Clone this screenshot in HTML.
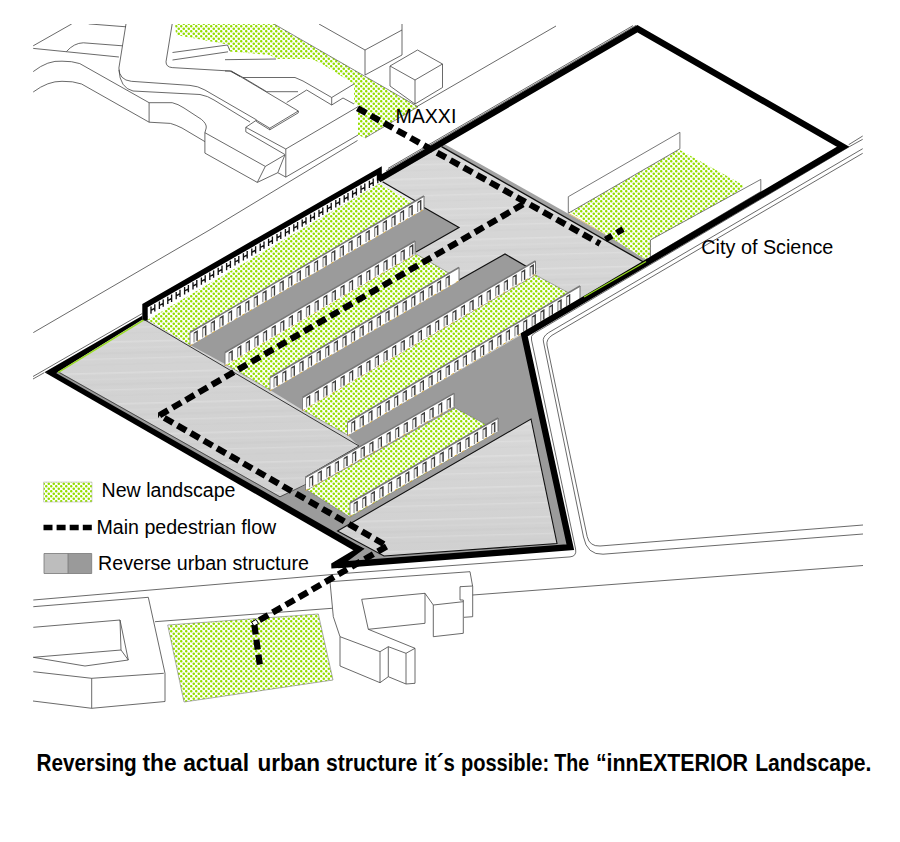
<!DOCTYPE html>
<html lang="en"><head><meta charset="utf-8"><title>innEXTERIOR Landscape</title>
<style>
html,body{margin:0;padding:0;background:#fff;}
svg{display:block}
</style></head><body>
<svg width="900" height="842" viewBox="0 0 900 842">
<defs>
<pattern id="dots" width="5" height="5" patternUnits="userSpaceOnUse">
<rect width="5" height="5" fill="#fff"/>
<circle cx="1.25" cy="1.25" r="1.27" fill="#94dc00"/><circle cx="3.75" cy="3.75" r="1.27" fill="#94dc00"/>
</pattern>
<linearGradient id="lg" x1="0" y1="0" x2="0" y2="1">
<stop offset="0" stop-color="#d8d8d8"/><stop offset="1" stop-color="#d0d0d0"/>
</linearGradient>
<linearGradient id="strip" gradientUnits="userSpaceOnUse" x1="444" y1="145" x2="440.5" y2="151">
<stop offset="0" stop-color="#8a8a8a"/><stop offset="1" stop-color="#b8b8b8"/>
</linearGradient>
<pattern id="streak" width="400" height="31" patternUnits="userSpaceOnUse" patternTransform="rotate(-1.5)">
<rect y="3" width="400" height="1.6" fill="#fff" opacity=".2"/>
<rect y="9.5" width="400" height="1" fill="#fff" opacity=".12"/>
<rect y="14" width="400" height="2.2" fill="#bbb" opacity=".13"/>
<rect y="20" width="400" height="1.3" fill="#fff" opacity=".17"/>
<rect y="25.5" width="400" height="1.8" fill="#c0c0c0" opacity=".13"/>
</pattern>
<clipPath id="frame"><rect x="33" y="24" width="830" height="688"/></clipPath>
</defs>
<rect width="900" height="842" fill="#fff"/>
<g clip-path="url(#frame)">
<polygon points="175.0,24.0 274.0,24.0 418.0,106.8 365.0,138.0 358.0,135.0 358.0,106.0 354.0,103.0 354.0,84.0 322.0,64.0 312.0,59.0 276.0,59.0 270.0,55.0 229.0,51.5 230.0,45.0 176.0,35.0" fill="#fff" stroke="none" stroke-width="1" />
<polygon points="175.0,24.0 274.0,24.0 418.0,106.8 365.0,138.0 358.0,135.0 358.0,106.0 354.0,103.0 354.0,84.0 322.0,64.0 312.0,59.0 276.0,59.0 270.0,55.0 229.0,51.5 230.0,45.0 176.0,35.0" fill="url(#dots)" stroke="none" stroke-width="1" />
<polyline points="274.0,24.0 418.0,106.8 365.0,138.0" fill="none" stroke="#555" stroke-width="0.7" />
<polygon points="167.7,625.0 318.3,614.0 333.0,680.0 184.0,702.0" fill="#fff" stroke="none" stroke-width="1" />
<polygon points="167.7,625.0 318.3,614.0 333.0,680.0 184.0,702.0" fill="url(#dots)" stroke="#777" stroke-width="0.6" />
<g fill="none" stroke="#444" stroke-width="0.8" stroke-linejoin="round">
<polyline points="33.2,45.8 71.8,23.9"/>
<polyline points="33.2,48.4 118.9,57.0"/>
<path d="M66.4,51.6 Q74,43 83.3,42.8 L122.4,45.8"/>
<polyline points="88.7,23.9 126.0,26.8"/>
<path d="M126,23.9 L118.9,68 Q119,80 131.3,81.3 L190,85.4 Q198,86 204.9,90 L256.4,119.8"/>
<path d="M118.9,69.8 Q120,88 133,91 L200,94.5 Q208,96 214,100 L250,122"/>
<path d="M172.2,23.9 L166,61.8 Q166,67 172.2,67.6 L230,71 L240,76.5"/>
<polyline points="172.5,52.5 227.5,45.0 230.0,51.0"/>
<polyline points="172.5,60.0 228.0,51.8"/>
<path d="M33.2,71.6 Q48,60 62,61.2 Q72,61 79.8,63.6 L149.1,102.7"/>
<path d="M33.2,92 Q48,81 62,81.3 Q73,81 81.6,84 L149.1,122.2"/>
<polyline points="149.1,102.7 149.1,122.2"/>
<path d="M149.1,102.7 L172.2,102.7 Q178,104 184,108 L201.3,119.3 Q207,124 206.2,128 L204.9,132.7"/>
<path d="M149.1,122.2 L170.4,123.4 Q176,125 182,128 L204.9,141.6"/>
<polyline points="204.9,132.7 204.9,153.1 257.3,182.4 265.3,166.4 204.9,132.7"/>
<polyline points="265.3,166.4 284.9,154.9"/>
<polyline points="257.3,182.4 277.8,172.7 284.9,154.9"/>
<polyline points="277.8,172.7 285.8,177.1 285.8,149.0 245.8,127.3 245.8,131.8 284.9,154.5"/>
<polyline points="285.8,177.1 358.0,135.0"/>
<polyline points="285.8,149.0 358.0,106.7"/>
<polyline points="245.8,127.3 256.4,120.2 269.8,128.2 298.3,111.0 231.0,71.0"/>
<polyline points="269.8,128.2 269.8,129.8 298.3,112.8 298.3,111.0"/>
<polyline points="256.4,120.2 256.4,121.5 269.8,129.8"/>
<polyline points="225.0,59.7 276.0,59.0"/>
<polyline points="225.0,71.0 231.0,71.0 243.0,77.5 295.0,77.5 303.0,81.0 331.7,97.5 354.0,84.0"/>
<polyline points="331.7,97.5 331.7,105.0 343.0,98.0 354.0,104.0"/>
<polyline points="243.0,77.5 266.7,91.7 298.0,91.7"/>
<polyline points="306.7,90.0 286.7,102.5"/>
<polyline points="306.7,90.0 331.7,105.0"/>
<polyline points="319.0,24.0 365.0,50.0 402.0,30.0 402.0,24.0"/>
<polyline points="365.0,50.0 365.0,75.0 402.0,55.0 402.0,30.0"/>
<polyline points="390.0,66.0 417.5,50.0 442.5,64.0 415.0,80.0 390.0,66.0 390.0,86.0 415.0,104.0 442.5,87.5 442.5,64.0"/>
<polyline points="415.0,80.0 415.0,104.0"/>
<polyline points="33.3,332.6 209.0,230.3 357.5,140.5"/>
<polyline points="417.0,106.5 556.0,26.0"/>
<polyline points="33.0,376.5 142.3,313.5"/>
<polyline points="33.0,379.0 44.0,372.8"/>
<polyline points="386.0,171.0 636.0,25.4"/>
<polyline points="388.0,168.4 633.0,25.6"/>
<polyline points="862.7,136.0 848.7,144.7"/>
<path d="M862.7,139.3 L849.3,146.7 L533.5,333.8 Q530.5,336 531.5,340 L575.6,549 Q577,556.3 570,556.9 L350,573 L33.3,600"/>
<path d="M862.7,148.7 L548.5,332.7 Q542,337 543.5,342 L583.5,537 Q587,555 603,554.2 L863,534"/>
<path d="M862.7,153.3 L552,335.3 Q546,339.5 547,345 L587.2,536.7 Q589.5,546.5 600,546 L863,525"/>
<polyline points="472.7,595.0 863.0,565.5"/>
<polyline points="33.3,606.7 148.3,597.3 165.0,673.3 165.0,701.5"/>
<polyline points="33.0,701.0 91.7,708.3 165.0,701.5"/>
<polyline points="155.0,621.7 332.0,608.3"/>
<polyline points="33.3,627.3 120.0,620.0 128.3,660.0 85.0,666.0 33.3,657.3"/>
<polyline points="120.0,620.0 121.0,650.0 33.3,657.3"/>
<polyline points="121.0,650.0 128.3,660.0"/>
<polyline points="33.3,671.7 91.7,678.3 163.8,673.3"/>
<polyline points="91.7,678.3 91.7,708.3"/>
<polyline points="330.0,581.7 470.0,571.7 472.7,586.7 472.7,616.7 464.0,617.3"/>
<polyline points="472.7,586.0 460.0,586.7 460.0,600.0 463.3,600.0 463.3,633.3 433.3,636.7 433.3,605.0 425.0,593.3 361.7,599.3 368.3,629.3 425.0,623.3 425.0,593.3"/>
<polyline points="433.3,605.0 463.3,601.7"/>
<polyline points="368.3,629.3 415.0,648.3 415.0,683.3 406.0,684.0 406.0,653.3 388.3,646.7 388.3,676.7 380.0,682.7 380.0,651.7 340.0,636.7 340.0,666.0 380.0,682.7"/>
<polyline points="380.0,651.7 388.3,646.7"/>
<polyline points="406.0,653.3 415.0,648.3"/>
<polyline points="388.3,676.7 406.0,684.0"/>
<polyline points="330.0,581.7 333.3,616.7 340.0,636.7"/>
</g></g>
<polygon points="47.0,372.0 144.0,318.0 382.0,179.0 444.0,145.0 650.0,261.0 524.0,334.0 571.0,548.0 335.0,566.0 359.0,550.0" fill="#9b9b9b" stroke="none" stroke-width="1" />
<polygon points="57.8,371.0 144.0,319.0 382.5,181.0 441.5,146.5 645.0,263.0 582.0,300.0 347.5,435.0 359.0,446.0 305.5,477.0 305.5,485.0 280.0,496.5" fill="url(#lg)" stroke="none" stroke-width="1" />
<polygon points="57.8,371.0 144.0,319.0 382.5,181.0 441.5,146.5 645.0,263.0 582.0,300.0 347.5,435.0 359.0,446.0 305.5,477.0 305.5,485.0 280.0,496.5" fill="url(#streak)" stroke="none" stroke-width="1" />
<polygon points="444.4,143.9 650.0,259.7 644.0,262.2 441.2,146.2" fill="#a2a2a2" stroke="none" stroke-width="1" />
<polyline points="441.5,146.6 643.5,262.0" fill="none" stroke="#111" stroke-width="1.3" />
<polyline points="569.0,213.6 648.0,258.2" fill="none" stroke="#d9a93a" stroke-width="0.7" />
<polygon points="337.5,531.0 531.0,419.0 557.0,543.5 384.0,556.0" fill="url(#lg)" stroke="none" stroke-width="1" />
<polygon points="337.5,531.0 531.0,419.0 557.0,543.5 384.0,556.0" fill="url(#streak)" stroke="#111" stroke-width="1.1" />
<polygon points="190.0,345.0 424.0,207.5 459.0,227.5 416.0,252.0 225.0,364.0" fill="#9b9b9b" stroke="none" stroke-width="1" />
<polyline points="424.0,207.5 459.0,227.5 416.0,252.0" fill="none" stroke="#111" stroke-width="1.2" />
<polygon points="270.0,390.0 459.0,280.0 505.0,254.0 536.0,272.0 302.5,410.0" fill="#9b9b9b" stroke="none" stroke-width="1" />
<polyline points="459.0,280.0 505.0,254.0 536.0,272.0" fill="none" stroke="#111" stroke-width="1.2" />
<polygon points="147.0,319.5 382.5,182.0 424.0,206.0 190.0,345.0" fill="#eee" stroke="none" stroke-width="1" />
<polygon points="147.0,319.5 379.5,183.8 421.0,207.8 190.0,345.0" fill="url(#dots)" stroke="none" stroke-width="1" />
<polyline points="382.5,181.8 424.0,206.0" fill="none" stroke="#111" stroke-width="1.2" />
<polygon points="225.0,364.0 416.0,254.0 460.0,279.5 270.0,390.0" fill="#fff" stroke="none" stroke-width="1" />
<polygon points="225.0,364.0 416.0,254.0 460.0,279.5 270.0,390.0" fill="url(#dots)" stroke="#555" stroke-width="0.5" />
<polygon points="302.5,410.0 535.5,275.0 580.0,299.0 347.5,435.0" fill="#fff" stroke="none" stroke-width="1" />
<polygon points="302.5,410.0 535.5,275.0 580.0,299.0 347.5,435.0" fill="url(#dots)" stroke="#555" stroke-width="0.5" />
<polygon points="307.0,490.0 455.0,408.0 498.0,431.0 350.0,517.0" fill="#fff" stroke="none" stroke-width="1" />
<polygon points="307.0,490.0 455.0,408.0 498.0,431.0 350.0,517.0" fill="url(#dots)" stroke="#555" stroke-width="0.5" />
<polygon points="570.0,212.0 679.0,149.5 745.0,186.0 645.0,259.0" fill="#fff" stroke="none" stroke-width="1" />
<polygon points="570.0,212.0 679.0,149.5 745.0,186.0 645.0,259.0" fill="url(#dots)" stroke="none" stroke-width="1" />
<polygon points="568.3,196.7 679.9,132.3 679.9,148.8 568.3,213.2" fill="#fff" stroke="#555" stroke-width="0.8" />
<polygon points="650.4,240.0 760.8,179.4 760.8,191.5 650.4,257.0" fill="#fff" stroke="#555" stroke-width="0.8" />
<polyline points="144.0,319.5 359.0,446.0 305.5,477.0" fill="none" stroke="#222" stroke-width="0.9" />
<polygon points="190.0,332.5 424.0,196.0 424.0,209.2 190.0,345.7" fill="#fff" stroke="none" stroke-width="1" />
<polyline points="190.0,345.7 190.0,332.5" fill="none" stroke="#777" stroke-width="0.9" />
<polyline points="424.0,196.0 424.0,209.2" fill="none" stroke="#666" stroke-width="0.9" />
<polyline points="190.0,332.5 424.0,196.0" fill="none" stroke="#777" stroke-width="1.5" />
<polyline points="190.0,345.7 424.0,209.2" fill="none" stroke="#d9a93a" stroke-width="0.9" stroke-dasharray="3 5.6"/>
<path d="M194.0,342.5 L194.0,333.1 L197.1,331.3 L197.1,340.7 M202.6,337.4 L202.6,328.0 L205.7,326.2 L205.7,335.6 M211.2,332.4 L211.2,323.0 L214.3,321.2 L214.3,330.6 M219.8,327.4 L219.8,318.0 L222.9,316.2 L222.9,325.6 M228.4,322.4 L228.4,313.0 L231.5,311.2 L231.5,320.6 M237.0,317.4 L237.0,308.0 L240.1,306.2 L240.1,315.6 M245.6,312.4 L245.6,303.0 L248.7,301.2 L248.7,310.6 M254.2,307.4 L254.2,297.9 L257.3,296.1 L257.3,305.5 M262.8,302.3 L262.8,292.9 L265.9,291.1 L265.9,300.5 M271.4,297.3 L271.4,287.9 L274.5,286.1 L274.5,295.5 M280.0,292.3 L280.0,282.9 L283.1,281.1 L283.1,290.5 M288.6,287.3 L288.6,277.9 L291.7,276.1 L291.7,285.5 M297.2,282.3 L297.2,272.9 L300.3,271.1 L300.3,280.5 M305.8,277.2 L305.8,267.8 L308.9,266.0 L308.9,275.4 M314.4,272.2 L314.4,262.8 L317.5,261.0 L317.5,270.4 M323.0,267.2 L323.0,257.8 L326.1,256.0 L326.1,265.4 M331.6,262.2 L331.6,252.8 L334.7,251.0 L334.7,260.4 M340.2,257.2 L340.2,247.8 L343.3,246.0 L343.3,255.4 M348.8,252.2 L348.8,242.8 L351.9,241.0 L351.9,250.4 M357.4,247.1 L357.4,237.7 L360.5,235.9 L360.5,245.3 M366.0,242.1 L366.0,232.7 L369.1,230.9 L369.1,240.3 M374.6,237.1 L374.6,227.7 L377.7,225.9 L377.7,235.3 M383.2,232.1 L383.2,222.7 L386.3,220.9 L386.3,230.3 M391.8,227.1 L391.8,217.7 L394.9,215.9 L394.9,225.3 M400.4,222.1 L400.4,212.7 L403.5,210.9 L403.5,220.3 M409.0,217.0 L409.0,207.6 L412.1,205.8 L412.1,215.2 M417.6,212.0 L417.6,202.6 L420.7,200.8 L420.7,210.2" fill="#ededed" stroke="#8a8a8a" stroke-width="1.1" />
<path d="M194.3,333.1 L197.1,331.3 L197.1,340.7 M202.9,328.0 L205.7,326.2 L205.7,335.6 M211.5,323.0 L214.3,321.2 L214.3,330.6 M220.1,318.0 L222.9,316.2 L222.9,325.6 M228.7,313.0 L231.5,311.2 L231.5,320.6 M237.3,308.0 L240.1,306.2 L240.1,315.6 M245.9,303.0 L248.7,301.2 L248.7,310.6 M254.5,297.9 L257.3,296.1 L257.3,305.5 M263.1,292.9 L265.9,291.1 L265.9,300.5 M271.7,287.9 L274.5,286.1 L274.5,295.5 M280.3,282.9 L283.1,281.1 L283.1,290.5 M288.9,277.9 L291.7,276.1 L291.7,285.5 M297.5,272.9 L300.3,271.1 L300.3,280.5 M306.1,267.8 L308.9,266.0 L308.9,275.4 M314.7,262.8 L317.5,261.0 L317.5,270.4 M323.3,257.8 L326.1,256.0 L326.1,265.4 M331.9,252.8 L334.7,251.0 L334.7,260.4 M340.5,247.8 L343.3,246.0 L343.3,255.4 M349.1,242.8 L351.9,241.0 L351.9,250.4 M357.7,237.7 L360.5,235.9 L360.5,245.3 M366.3,232.7 L369.1,230.9 L369.1,240.3 M374.9,227.7 L377.7,225.9 L377.7,235.3 M383.5,222.7 L386.3,220.9 L386.3,230.3 M392.1,217.7 L394.9,215.9 L394.9,225.3 M400.7,212.7 L403.5,210.9 L403.5,220.3 M409.3,207.6 L412.1,205.8 L412.1,215.2 M417.9,202.6 L420.7,200.8 L420.7,210.2" fill="none" stroke="#3c3c3c" stroke-width="1.2" />
<polygon points="225.0,352.5 415.0,241.0 415.0,254.2 225.0,365.7" fill="#fff" stroke="none" stroke-width="1" />
<polyline points="225.0,365.7 225.0,352.5" fill="none" stroke="#777" stroke-width="0.9" />
<polyline points="415.0,241.0 415.0,254.2" fill="none" stroke="#666" stroke-width="0.9" />
<polyline points="225.0,352.5 415.0,241.0" fill="none" stroke="#777" stroke-width="1.5" />
<polyline points="225.0,365.7 415.0,254.2" fill="none" stroke="#d9a93a" stroke-width="0.9" stroke-dasharray="3 5.6"/>
<path d="M229.0,362.5 L229.0,353.1 L232.1,351.2 L232.1,360.6 M237.6,357.4 L237.6,348.0 L240.7,346.2 L240.7,355.6 M246.2,352.4 L246.2,343.0 L249.3,341.1 L249.3,350.5 M254.8,347.3 L254.8,337.9 L257.9,336.1 L257.9,345.5 M263.4,342.3 L263.4,332.9 L266.5,331.0 L266.5,340.4 M272.0,337.2 L272.0,327.8 L275.1,326.0 L275.1,335.4 M280.6,332.2 L280.6,322.8 L283.7,321.0 L283.7,330.4 M289.2,327.1 L289.2,317.7 L292.3,315.9 L292.3,325.3 M297.8,322.1 L297.8,312.7 L300.9,310.9 L300.9,320.3 M306.4,317.0 L306.4,307.6 L309.5,305.8 L309.5,315.2 M315.0,312.0 L315.0,302.6 L318.1,300.8 L318.1,310.2 M323.6,306.9 L323.6,297.5 L326.7,295.7 L326.7,305.1 M332.2,301.9 L332.2,292.5 L335.3,290.7 L335.3,300.1 M340.8,296.8 L340.8,287.4 L343.9,285.6 L343.9,295.0 M349.4,291.8 L349.4,282.4 L352.5,280.6 L352.5,290.0 M358.0,286.7 L358.0,277.3 L361.1,275.5 L361.1,284.9 M366.6,281.7 L366.6,272.3 L369.7,270.5 L369.7,279.9 M375.2,276.7 L375.2,267.3 L378.3,265.4 L378.3,274.8 M383.8,271.6 L383.8,262.2 L386.9,260.4 L386.9,269.8 M392.4,266.6 L392.4,257.2 L395.5,255.3 L395.5,264.7 M401.0,261.5 L401.0,252.1 L404.1,250.3 L404.1,259.7 M409.6,256.5 L409.6,247.1 L412.7,245.2 L412.7,254.6" fill="#ededed" stroke="#8a8a8a" stroke-width="1.1" />
<path d="M229.3,353.1 L232.1,351.2 L232.1,360.6 M237.9,348.0 L240.7,346.2 L240.7,355.6 M246.5,343.0 L249.3,341.1 L249.3,350.5 M255.1,337.9 L257.9,336.1 L257.9,345.5 M263.7,332.9 L266.5,331.0 L266.5,340.4 M272.3,327.8 L275.1,326.0 L275.1,335.4 M280.9,322.8 L283.7,321.0 L283.7,330.4 M289.5,317.7 L292.3,315.9 L292.3,325.3 M298.1,312.7 L300.9,310.9 L300.9,320.3 M306.7,307.6 L309.5,305.8 L309.5,315.2 M315.3,302.6 L318.1,300.8 L318.1,310.2 M323.9,297.5 L326.7,295.7 L326.7,305.1 M332.5,292.5 L335.3,290.7 L335.3,300.1 M341.1,287.4 L343.9,285.6 L343.9,295.0 M349.7,282.4 L352.5,280.6 L352.5,290.0 M358.3,277.3 L361.1,275.5 L361.1,284.9 M366.9,272.3 L369.7,270.5 L369.7,279.9 M375.5,267.3 L378.3,265.4 L378.3,274.8 M384.1,262.2 L386.9,260.4 L386.9,269.8 M392.7,257.2 L395.5,255.3 L395.5,264.7 M401.3,252.1 L404.1,250.3 L404.1,259.7 M409.9,247.1 L412.7,245.2 L412.7,254.6" fill="none" stroke="#3c3c3c" stroke-width="1.2" />
<polygon points="270.0,377.5 459.0,267.5 459.0,280.7 270.0,390.7" fill="#fff" stroke="none" stroke-width="1" />
<polyline points="270.0,390.7 270.0,377.5" fill="none" stroke="#777" stroke-width="0.9" />
<polyline points="459.0,267.5 459.0,280.7" fill="none" stroke="#666" stroke-width="0.9" />
<polyline points="270.0,377.5 459.0,267.5" fill="none" stroke="#777" stroke-width="1.5" />
<polyline points="270.0,390.7 459.0,280.7" fill="none" stroke="#d9a93a" stroke-width="0.9" stroke-dasharray="3 5.6"/>
<path d="M274.0,387.5 L274.0,378.1 L277.1,376.3 L277.1,385.7 M282.6,382.5 L282.6,373.1 L285.7,371.3 L285.7,380.7 M291.2,377.5 L291.2,368.1 L294.3,366.3 L294.3,375.7 M299.8,372.5 L299.8,363.1 L302.9,361.3 L302.9,370.7 M308.4,367.5 L308.4,358.1 L311.5,356.2 L311.5,365.6 M317.0,362.4 L317.0,353.0 L320.1,351.2 L320.1,360.6 M325.6,357.4 L325.6,348.0 L328.7,346.2 L328.7,355.6 M334.2,352.4 L334.2,343.0 L337.3,341.2 L337.3,350.6 M342.8,347.4 L342.8,338.0 L345.9,336.2 L345.9,345.6 M351.4,342.4 L351.4,333.0 L354.5,331.2 L354.5,340.6 M360.0,337.4 L360.0,328.0 L363.1,326.2 L363.1,335.6 M368.6,332.4 L368.6,323.0 L371.7,321.2 L371.7,330.6 M377.2,327.4 L377.2,318.0 L380.3,316.2 L380.3,325.6 M385.8,322.4 L385.8,313.0 L388.9,311.2 L388.9,320.6 M394.4,317.4 L394.4,308.0 L397.5,306.2 L397.5,315.6 M403.0,312.4 L403.0,303.0 L406.1,301.2 L406.1,310.6 M411.6,307.4 L411.6,298.0 L414.7,296.2 L414.7,305.6 M420.2,302.4 L420.2,293.0 L423.3,291.2 L423.3,300.6 M428.8,297.4 L428.8,288.0 L431.9,286.2 L431.9,295.6 M437.4,292.4 L437.4,283.0 L440.5,281.2 L440.5,290.6 M446.0,287.4 L446.0,278.0 L449.1,276.2 L449.1,285.6" fill="#ededed" stroke="#8a8a8a" stroke-width="1.1" />
<path d="M274.3,378.1 L277.1,376.3 L277.1,385.7 M282.9,373.1 L285.7,371.3 L285.7,380.7 M291.5,368.1 L294.3,366.3 L294.3,375.7 M300.1,363.1 L302.9,361.3 L302.9,370.7 M308.7,358.1 L311.5,356.2 L311.5,365.6 M317.3,353.0 L320.1,351.2 L320.1,360.6 M325.9,348.0 L328.7,346.2 L328.7,355.6 M334.5,343.0 L337.3,341.2 L337.3,350.6 M343.1,338.0 L345.9,336.2 L345.9,345.6 M351.7,333.0 L354.5,331.2 L354.5,340.6 M360.3,328.0 L363.1,326.2 L363.1,335.6 M368.9,323.0 L371.7,321.2 L371.7,330.6 M377.5,318.0 L380.3,316.2 L380.3,325.6 M386.1,313.0 L388.9,311.2 L388.9,320.6 M394.7,308.0 L397.5,306.2 L397.5,315.6 M403.3,303.0 L406.1,301.2 L406.1,310.6 M411.9,298.0 L414.7,296.2 L414.7,305.6 M420.5,293.0 L423.3,291.2 L423.3,300.6 M429.1,288.0 L431.9,286.2 L431.9,295.6 M437.7,283.0 L440.5,281.2 L440.5,290.6 M446.3,278.0 L449.1,276.2 L449.1,285.6" fill="none" stroke="#3c3c3c" stroke-width="1.2" />
<polygon points="302.5,397.5 535.5,261.0 535.5,274.2 302.5,410.7" fill="#fff" stroke="none" stroke-width="1" />
<polyline points="302.5,410.7 302.5,397.5" fill="none" stroke="#777" stroke-width="0.9" />
<polyline points="535.5,261.0 535.5,274.2" fill="none" stroke="#666" stroke-width="0.9" />
<polyline points="302.5,397.5 535.5,261.0" fill="none" stroke="#777" stroke-width="1.5" />
<polyline points="302.5,410.7 535.5,274.2" fill="none" stroke="#d9a93a" stroke-width="0.9" stroke-dasharray="3 5.6"/>
<path d="M306.5,407.5 L306.5,398.1 L309.6,396.2 L309.6,405.6 M315.1,402.4 L315.1,393.0 L318.2,391.2 L318.2,400.6 M323.7,397.4 L323.7,388.0 L326.8,386.2 L326.8,395.6 M332.3,392.3 L332.3,382.9 L335.4,381.1 L335.4,390.5 M340.9,387.3 L340.9,377.9 L344.0,376.1 L344.0,385.5 M349.5,382.3 L349.5,372.9 L352.6,371.0 L352.6,380.4 M358.1,377.2 L358.1,367.8 L361.2,366.0 L361.2,375.4 M366.7,372.2 L366.7,362.8 L369.8,361.0 L369.8,370.4 M375.3,367.2 L375.3,357.8 L378.4,355.9 L378.4,365.3 M383.9,362.1 L383.9,352.7 L387.0,350.9 L387.0,360.3 M392.5,357.1 L392.5,347.7 L395.6,345.9 L395.6,355.3 M401.1,352.0 L401.1,342.6 L404.2,340.8 L404.2,350.2 M409.7,347.0 L409.7,337.6 L412.8,335.8 L412.8,345.2 M418.3,342.0 L418.3,332.6 L421.4,330.7 L421.4,340.1 M426.9,336.9 L426.9,327.5 L430.0,325.7 L430.0,335.1 M435.5,331.9 L435.5,322.5 L438.6,320.7 L438.6,330.1 M444.1,326.8 L444.1,317.4 L447.2,315.6 L447.2,325.0 M452.7,321.8 L452.7,312.4 L455.8,310.6 L455.8,320.0 M461.3,316.8 L461.3,307.4 L464.4,305.6 L464.4,315.0 M469.9,311.7 L469.9,302.3 L473.0,300.5 L473.0,309.9 M478.5,306.7 L478.5,297.3 L481.6,295.5 L481.6,304.9 M487.1,301.7 L487.1,292.3 L490.2,290.4 L490.2,299.8 M495.7,296.6 L495.7,287.2 L498.8,285.4 L498.8,294.8 M504.3,291.6 L504.3,282.2 L507.4,280.4 L507.4,289.8 M512.9,286.5 L512.9,277.1 L516.0,275.3 L516.0,284.7 M521.5,281.5 L521.5,272.1 L524.6,270.3 L524.6,279.7 M530.1,276.5 L530.1,267.1 L533.2,265.2 L533.2,274.6" fill="#ededed" stroke="#8a8a8a" stroke-width="1.1" />
<path d="M306.8,398.1 L309.6,396.2 L309.6,405.6 M315.4,393.0 L318.2,391.2 L318.2,400.6 M324.0,388.0 L326.8,386.2 L326.8,395.6 M332.6,382.9 L335.4,381.1 L335.4,390.5 M341.2,377.9 L344.0,376.1 L344.0,385.5 M349.8,372.9 L352.6,371.0 L352.6,380.4 M358.4,367.8 L361.2,366.0 L361.2,375.4 M367.0,362.8 L369.8,361.0 L369.8,370.4 M375.6,357.8 L378.4,355.9 L378.4,365.3 M384.2,352.7 L387.0,350.9 L387.0,360.3 M392.8,347.7 L395.6,345.9 L395.6,355.3 M401.4,342.6 L404.2,340.8 L404.2,350.2 M410.0,337.6 L412.8,335.8 L412.8,345.2 M418.6,332.6 L421.4,330.7 L421.4,340.1 M427.2,327.5 L430.0,325.7 L430.0,335.1 M435.8,322.5 L438.6,320.7 L438.6,330.1 M444.4,317.4 L447.2,315.6 L447.2,325.0 M453.0,312.4 L455.8,310.6 L455.8,320.0 M461.6,307.4 L464.4,305.6 L464.4,315.0 M470.2,302.3 L473.0,300.5 L473.0,309.9 M478.8,297.3 L481.6,295.5 L481.6,304.9 M487.4,292.3 L490.2,290.4 L490.2,299.8 M496.0,287.2 L498.8,285.4 L498.8,294.8 M504.6,282.2 L507.4,280.4 L507.4,289.8 M513.2,277.1 L516.0,275.3 L516.0,284.7 M521.8,272.1 L524.6,270.3 L524.6,279.7 M530.4,267.1 L533.2,265.2 L533.2,274.6" fill="none" stroke="#3c3c3c" stroke-width="1.2" />
<polygon points="347.5,422.5 580.0,286.0 580.0,299.2 347.5,435.7" fill="#fff" stroke="none" stroke-width="1" />
<polyline points="347.5,435.7 347.5,422.5" fill="none" stroke="#777" stroke-width="0.9" />
<polyline points="580.0,286.0 580.0,299.2" fill="none" stroke="#666" stroke-width="0.9" />
<polyline points="347.5,422.5 580.0,286.0" fill="none" stroke="#777" stroke-width="1.5" />
<polyline points="347.5,435.7 580.0,299.2" fill="none" stroke="#d9a93a" stroke-width="0.9" stroke-dasharray="3 5.6"/>
<path d="M351.5,432.5 L351.5,423.1 L354.6,421.2 L354.6,430.6 M360.1,427.4 L360.1,418.0 L363.2,416.2 L363.2,425.6 M368.7,422.4 L368.7,413.0 L371.8,411.1 L371.8,420.5 M377.3,417.3 L377.3,407.9 L380.4,406.1 L380.4,415.5 M385.9,412.3 L385.9,402.9 L389.0,401.0 L389.0,410.4 M394.5,407.2 L394.5,397.8 L397.6,396.0 L397.6,405.4 M403.1,402.2 L403.1,392.8 L406.2,390.9 L406.2,400.3 M411.7,397.1 L411.7,387.7 L414.8,385.9 L414.8,395.3 M420.3,392.1 L420.3,382.7 L423.4,380.8 L423.4,390.2 M428.9,387.0 L428.9,377.6 L432.0,375.8 L432.0,385.2 M437.5,382.0 L437.5,372.6 L440.6,370.7 L440.6,380.1 M446.1,376.9 L446.1,367.5 L449.2,365.7 L449.2,375.1 M454.7,371.9 L454.7,362.5 L457.8,360.6 L457.8,370.0 M463.3,366.8 L463.3,357.4 L466.4,355.6 L466.4,365.0 M471.9,361.8 L471.9,352.4 L475.0,350.5 L475.0,359.9 M480.5,356.7 L480.5,347.3 L483.6,345.5 L483.6,354.9 M489.1,351.7 L489.1,342.3 L492.2,340.4 L492.2,349.8 M497.7,346.6 L497.7,337.2 L500.8,335.4 L500.8,344.8 M506.3,341.6 L506.3,332.2 L509.4,330.3 L509.4,339.7 M514.9,336.5 L514.9,327.1 L518.0,325.3 L518.0,334.7 M523.5,331.5 L523.5,322.1 L526.6,320.3 L526.6,329.7 M532.1,326.4 L532.1,317.0 L535.2,315.2 L535.2,324.6 M540.7,321.4 L540.7,312.0 L543.8,310.2 L543.8,319.6 M549.3,316.3 L549.3,306.9 L552.4,305.1 L552.4,314.5 M557.9,311.3 L557.9,301.9 L561.0,300.1 L561.0,309.5 M566.5,306.2 L566.5,296.8 L569.6,295.0 L569.6,304.4" fill="#ededed" stroke="#8a8a8a" stroke-width="1.1" />
<path d="M351.8,423.1 L354.6,421.2 L354.6,430.6 M360.4,418.0 L363.2,416.2 L363.2,425.6 M369.0,413.0 L371.8,411.1 L371.8,420.5 M377.6,407.9 L380.4,406.1 L380.4,415.5 M386.2,402.9 L389.0,401.0 L389.0,410.4 M394.8,397.8 L397.6,396.0 L397.6,405.4 M403.4,392.8 L406.2,390.9 L406.2,400.3 M412.0,387.7 L414.8,385.9 L414.8,395.3 M420.6,382.7 L423.4,380.8 L423.4,390.2 M429.2,377.6 L432.0,375.8 L432.0,385.2 M437.8,372.6 L440.6,370.7 L440.6,380.1 M446.4,367.5 L449.2,365.7 L449.2,375.1 M455.0,362.5 L457.8,360.6 L457.8,370.0 M463.6,357.4 L466.4,355.6 L466.4,365.0 M472.2,352.4 L475.0,350.5 L475.0,359.9 M480.8,347.3 L483.6,345.5 L483.6,354.9 M489.4,342.3 L492.2,340.4 L492.2,349.8 M498.0,337.2 L500.8,335.4 L500.8,344.8 M506.6,332.2 L509.4,330.3 L509.4,339.7 M515.2,327.1 L518.0,325.3 L518.0,334.7 M523.8,322.1 L526.6,320.3 L526.6,329.7 M532.4,317.0 L535.2,315.2 L535.2,324.6 M541.0,312.0 L543.8,310.2 L543.8,319.6 M549.6,306.9 L552.4,305.1 L552.4,314.5 M558.2,301.9 L561.0,300.1 L561.0,309.5 M566.8,296.8 L569.6,295.0 L569.6,304.4" fill="none" stroke="#3c3c3c" stroke-width="1.2" />
<polygon points="305.5,477.3 454.0,393.3 454.0,406.5 305.5,490.5" fill="#fff" stroke="none" stroke-width="1" />
<polyline points="305.5,490.5 305.5,477.3" fill="none" stroke="#777" stroke-width="0.9" />
<polyline points="454.0,393.3 454.0,406.5" fill="none" stroke="#666" stroke-width="0.9" />
<polyline points="305.5,477.3 454.0,393.3" fill="none" stroke="#777" stroke-width="1.5" />
<polyline points="305.5,490.5 454.0,406.5" fill="none" stroke="#d9a93a" stroke-width="0.9" stroke-dasharray="3 5.6"/>
<path d="M309.5,487.3 L309.5,477.9 L312.6,476.2 L312.6,485.6 M318.1,482.5 L318.1,473.1 L321.2,471.3 L321.2,480.7 M326.7,477.6 L326.7,468.2 L329.8,466.5 L329.8,475.9 M335.3,472.7 L335.3,463.3 L338.4,461.6 L338.4,471.0 M343.9,467.9 L343.9,458.5 L347.0,456.7 L347.0,466.1 M352.5,463.0 L352.5,453.6 L355.6,451.9 L355.6,461.3 M361.1,458.1 L361.1,448.7 L364.2,447.0 L364.2,456.4 M369.7,453.3 L369.7,443.9 L372.8,442.1 L372.8,451.5 M378.3,448.4 L378.3,439.0 L381.4,437.3 L381.4,446.7 M386.9,443.6 L386.9,434.2 L390.0,432.4 L390.0,441.8 M395.5,438.7 L395.5,429.3 L398.6,427.5 L398.6,436.9 M404.1,433.8 L404.1,424.4 L407.2,422.7 L407.2,432.1 M412.7,429.0 L412.7,419.6 L415.8,417.8 L415.8,427.2 M421.3,424.1 L421.3,414.7 L424.4,412.9 L424.4,422.3 M429.9,419.2 L429.9,409.8 L433.0,408.1 L433.0,417.5 M438.5,414.4 L438.5,405.0 L441.6,403.2 L441.6,412.6 M447.1,409.5 L447.1,400.1 L450.2,398.3 L450.2,407.7" fill="#ededed" stroke="#8a8a8a" stroke-width="1.1" />
<path d="M309.8,477.9 L312.6,476.2 L312.6,485.6 M318.4,473.1 L321.2,471.3 L321.2,480.7 M327.0,468.2 L329.8,466.5 L329.8,475.9 M335.6,463.3 L338.4,461.6 L338.4,471.0 M344.2,458.5 L347.0,456.7 L347.0,466.1 M352.8,453.6 L355.6,451.9 L355.6,461.3 M361.4,448.7 L364.2,447.0 L364.2,456.4 M370.0,443.9 L372.8,442.1 L372.8,451.5 M378.6,439.0 L381.4,437.3 L381.4,446.7 M387.2,434.2 L390.0,432.4 L390.0,441.8 M395.8,429.3 L398.6,427.5 L398.6,436.9 M404.4,424.4 L407.2,422.7 L407.2,432.1 M413.0,419.6 L415.8,417.8 L415.8,427.2 M421.6,414.7 L424.4,412.9 L424.4,422.3 M430.2,409.8 L433.0,408.1 L433.0,417.5 M438.8,405.0 L441.6,403.2 L441.6,412.6 M447.4,400.1 L450.2,398.3 L450.2,407.7" fill="none" stroke="#3c3c3c" stroke-width="1.2" />
<polygon points="350.0,503.0 498.0,418.0 498.0,431.2 350.0,516.2" fill="#fff" stroke="none" stroke-width="1" />
<polyline points="350.0,516.2 350.0,503.0" fill="none" stroke="#777" stroke-width="0.9" />
<polyline points="498.0,418.0 498.0,431.2" fill="none" stroke="#666" stroke-width="0.9" />
<polyline points="350.0,503.0 498.0,418.0" fill="none" stroke="#777" stroke-width="1.5" />
<polyline points="350.0,516.2 498.0,431.2" fill="none" stroke="#d9a93a" stroke-width="0.9" stroke-dasharray="3 5.6"/>
<path d="M354.0,513.0 L354.0,503.6 L357.1,501.8 L357.1,511.2 M362.6,508.1 L362.6,498.7 L365.7,496.9 L365.7,506.3 M371.2,503.1 L371.2,493.7 L374.3,491.9 L374.3,501.3 M379.8,498.2 L379.8,488.8 L382.9,487.0 L382.9,496.4 M388.4,493.2 L388.4,483.8 L391.5,482.1 L391.5,491.5 M397.0,488.3 L397.0,478.9 L400.1,477.1 L400.1,486.5 M405.6,483.4 L405.6,474.0 L408.7,472.2 L408.7,481.6 M414.2,478.4 L414.2,469.0 L417.3,467.2 L417.3,476.6 M422.8,473.5 L422.8,464.1 L425.9,462.3 L425.9,471.7 M431.4,468.5 L431.4,459.1 L434.5,457.4 L434.5,466.8 M440.0,463.6 L440.0,454.2 L443.1,452.4 L443.1,461.8 M448.6,458.7 L448.6,449.3 L451.7,447.5 L451.7,456.9 M457.2,453.7 L457.2,444.3 L460.3,442.6 L460.3,452.0 M465.8,448.8 L465.8,439.4 L468.9,437.6 L468.9,447.0 M474.4,443.9 L474.4,434.5 L477.5,432.7 L477.5,442.1 M483.0,438.9 L483.0,429.5 L486.1,427.7 L486.1,437.1 M491.6,434.0 L491.6,424.6 L494.7,422.8 L494.7,432.2" fill="#ededed" stroke="#8a8a8a" stroke-width="1.1" />
<path d="M354.3,503.6 L357.1,501.8 L357.1,511.2 M362.9,498.7 L365.7,496.9 L365.7,506.3 M371.5,493.7 L374.3,491.9 L374.3,501.3 M380.1,488.8 L382.9,487.0 L382.9,496.4 M388.7,483.8 L391.5,482.1 L391.5,491.5 M397.3,478.9 L400.1,477.1 L400.1,486.5 M405.9,474.0 L408.7,472.2 L408.7,481.6 M414.5,469.0 L417.3,467.2 L417.3,476.6 M423.1,464.1 L425.9,462.3 L425.9,471.7 M431.7,459.1 L434.5,457.4 L434.5,466.8 M440.3,454.2 L443.1,452.4 L443.1,461.8 M448.9,449.3 L451.7,447.5 L451.7,456.9 M457.5,444.3 L460.3,442.6 L460.3,452.0 M466.1,439.4 L468.9,437.6 L468.9,447.0 M474.7,434.5 L477.5,432.7 L477.5,442.1 M483.3,429.5 L486.1,427.7 L486.1,437.1 M491.9,424.6 L494.7,422.8 L494.7,432.2" fill="none" stroke="#3c3c3c" stroke-width="1.2" />
<polygon points="147.0,306.0 382.0,173.0 382.5,181.5 148.0,319.5" fill="#fff" stroke="none" stroke-width="1" />
<path d="M151.0,313.8 L151.0,306.4 M154.8,311.6 L154.8,304.2 M151.0,310.3 L154.8,308.1 M159.4,309.0 L159.4,301.6 M163.2,306.8 L163.2,299.4 M159.4,305.5 L163.2,303.3 M167.8,304.1 L167.8,296.7 M171.6,301.9 L171.6,294.5 M167.8,300.6 L171.6,298.4 M176.2,299.3 L176.2,291.9 M180.0,297.1 L180.0,289.7 M176.2,295.8 L180.0,293.6 M184.6,294.5 L184.6,287.1 M188.4,292.3 L188.4,284.9 M184.6,291.0 L188.4,288.8 M193.0,289.6 L193.0,282.2 M196.8,287.4 L196.8,280.0 M193.0,286.1 L196.8,283.9 M201.4,284.8 L201.4,277.4 M205.2,282.6 L205.2,275.2 M201.4,281.3 L205.2,279.1 M209.8,280.0 L209.8,272.6 M213.6,277.8 L213.6,270.4 M209.8,276.5 L213.6,274.3 M218.2,275.1 L218.2,267.7 M222.0,272.9 L222.0,265.5 M218.2,271.6 L222.0,269.4 M226.6,270.3 L226.6,262.9 M230.4,268.1 L230.4,260.7 M226.6,266.8 L230.4,264.6 M235.0,265.5 L235.0,258.1 M238.8,263.3 L238.8,255.9 M235.0,262.0 L238.8,259.8 M243.4,260.6 L243.4,253.2 M247.2,258.4 L247.2,251.0 M243.4,257.1 L247.2,254.9 M251.8,255.8 L251.8,248.4 M255.6,253.6 L255.6,246.2 M251.8,252.3 L255.6,250.1 M260.2,251.0 L260.2,243.6 M264.0,248.8 L264.0,241.4 M260.2,247.5 L264.0,245.3 M268.6,246.1 L268.6,238.7 M272.4,243.9 L272.4,236.5 M268.6,242.6 L272.4,240.4 M277.0,241.3 L277.0,233.9 M280.8,239.1 L280.8,231.7 M277.0,237.8 L280.8,235.6 M285.4,236.5 L285.4,229.1 M289.2,234.3 L289.2,226.9 M285.4,233.0 L289.2,230.8 M293.8,231.6 L293.8,224.2 M297.6,229.4 L297.6,222.0 M293.8,228.1 L297.6,225.9 M302.2,226.8 L302.2,219.4 M306.0,224.6 L306.0,217.2 M302.2,223.3 L306.0,221.1 M310.6,222.0 L310.6,214.6 M314.4,219.8 L314.4,212.4 M310.6,218.5 L314.4,216.3 M319.0,217.1 L319.0,209.7 M322.8,214.9 L322.8,207.5 M319.0,213.6 L322.8,211.4 M327.4,212.3 L327.4,204.9 M331.2,210.1 L331.2,202.7 M327.4,208.8 L331.2,206.6 M335.8,207.5 L335.8,200.1 M339.6,205.3 L339.6,197.9 M335.8,204.0 L339.6,201.8 M344.2,202.6 L344.2,195.2 M348.0,200.4 L348.0,193.0 M344.2,199.1 L348.0,196.9 M352.6,197.8 L352.6,190.4 M356.4,195.6 L356.4,188.2 M352.6,194.3 L356.4,192.1 M361.0,193.0 L361.0,185.6 M364.8,190.8 L364.8,183.4 M361.0,189.5 L364.8,187.3 M369.4,188.1 L369.4,180.7 M373.2,185.9 L373.2,178.5 M369.4,184.6 L373.2,182.4 M377.8,183.3 L377.8,175.9 M381.6,181.1 L381.6,173.7 M377.8,179.8 L381.6,177.6" fill="none" stroke="#111" stroke-width="1.35" />
<polygon points="44.4,372.2 142.3,315.7 142.3,319.6 57.8,371.9 55.0,374.0" fill="#000" stroke="none" stroke-width="1" />
<polygon points="142.3,304.0 381.8,166.2 381.8,180.5 376.8,180.5 376.8,175.3 147.7,307.3 147.7,320.5 142.3,320.5" fill="#000" stroke="none" stroke-width="1" />
<polyline points="378.6,179.6 637.4,28.7 843.1,146.8 524.2,334.7 570.3,547.2 338.0,565.0" fill="none" stroke="#000" stroke-width="6.3" stroke-linejoin="miter" stroke-miterlimit="10"/>
<polygon points="44.4,372.2 353.3,550.3 364.5,548.9 55.2,372.4" fill="#000" stroke="none" stroke-width="1" />
<polyline points="57.8,371.7 280.0,496.8 305.5,484.5" fill="none" stroke="#222" stroke-width="0.7" />
<polygon points="353.3,550.3 331.2,563.4 331.4,568.4 346.0,567.6 347.0,561.8 364.5,548.7 358.0,545.5" fill="#000" stroke="none" stroke-width="1" />
<polyline points="58.3,372.3 143.5,320.2" fill="none" stroke="#9d2" stroke-width="1.4" />
<polyline points="584.0,297.0 646.0,261.5" fill="none" stroke="#9d2" stroke-width="1.2" />
<polyline points="357.5,108.2 600.0,243.7" fill="none" stroke="#000" stroke-width="6.2" stroke-dasharray="10 5.2" stroke-linejoin="bevel"/>
<polyline points="605.5,239.5 624.5,228.3" fill="none" stroke="#000" stroke-width="6" stroke-dasharray="7.5 5.5"/>
<polyline points="523.0,204.3 159.6,415.2 388.0,546.5" fill="none" stroke="#000" stroke-width="6.2" stroke-dasharray="10 5.2" stroke-linejoin="bevel"/>
<polyline points="386.5,546.5 254.5,623.0" fill="none" stroke="#000" stroke-width="6.2" stroke-dasharray="10 5.2" stroke-linejoin="bevel"/>
<polyline points="254.3,624.5 260.2,667.5" fill="none" stroke="#000" stroke-width="6.2" stroke-dasharray="10 5.2" stroke-linejoin="bevel"/>
<polygon points="251.5,622.0 256.0,619.5 258.5,623.5 254.0,626.0" fill="#fff" stroke="#000" stroke-width="1" />
<polygon points="43.5,482.0 92.0,482.0 92.0,502.0 43.5,502.0" fill="#fff" stroke="none" stroke-width="1" />
<polygon points="43.5,482.0 92.0,482.0 92.0,502.0 43.5,502.0" fill="url(#dots)" stroke="#bbb" stroke-width="0.6" />
<polyline points="43.5,527.5 92.0,527.5" fill="none" stroke="#000" stroke-width="5.6" stroke-dasharray="9 4.1"/>
<polygon points="44.0,553.5 68.0,553.5 68.0,573.5 44.0,573.5" fill="#bdbdbd" stroke="none" stroke-width="1" />
<polygon points="68.0,553.5 91.7,553.5 91.7,573.5 68.0,573.5" fill="#9a9a9a" stroke="none" stroke-width="1" />
<polygon points="44.0,553.5 91.7,553.5 91.7,573.5 44.0,573.5" fill="none" stroke="#777" stroke-width="0.8" />
<polyline points="68.0,553.5 68.0,573.5" fill="none" stroke="#777" stroke-width="0.8" />
<text x="101.5" y="497" font-family="'Liberation Sans', Arial, sans-serif" font-size="19.6" fill="#000">New landscape</text>
<text x="96.5" y="533.5" font-family="'Liberation Sans', Arial, sans-serif" font-size="19.6" fill="#000">Main pedestrian flow</text>
<text x="98" y="570" font-family="'Liberation Sans', Arial, sans-serif" font-size="19.6" fill="#000" textLength="211" lengthAdjust="spacingAndGlyphs">Reverse urban structure</text>
<text x="395.4" y="122.6" font-family="'Liberation Sans', Arial, sans-serif" font-size="19.6" fill="#000">MAXXI</text>
<text x="701.3" y="253.5" font-family="'Liberation Sans', Arial, sans-serif" font-size="19.6" fill="#000" textLength="132" lengthAdjust="spacingAndGlyphs">City of Science</text>
<text y="770.5" font-family="'Liberation Sans', Arial, sans-serif" font-size="23.6" font-weight="bold" fill="#000"><tspan x="36.5" textLength="100.3" lengthAdjust="spacingAndGlyphs">Reversing</tspan> <tspan x="142.5" textLength="34.0" lengthAdjust="spacingAndGlyphs">the</tspan> <tspan x="183.2" textLength="65.9" lengthAdjust="spacingAndGlyphs">actual</tspan> <tspan x="257.5" textLength="62.6" lengthAdjust="spacingAndGlyphs">urban</tspan> <tspan x="325.9" textLength="91.6" lengthAdjust="spacingAndGlyphs">structure</tspan> <tspan x="424.2" textLength="30.6" lengthAdjust="spacingAndGlyphs">it´s</tspan> <tspan x="460.9" textLength="88.2" lengthAdjust="spacingAndGlyphs">possible:</tspan> <tspan x="554.2" textLength="34.9" lengthAdjust="spacingAndGlyphs">The</tspan> <tspan x="595.9" textLength="152.2" lengthAdjust="spacingAndGlyphs">“innEXTERIOR</tspan> <tspan x="755.2" textLength="116.3" lengthAdjust="spacingAndGlyphs">Landscape.</tspan></text>
</svg>
</body></html>
